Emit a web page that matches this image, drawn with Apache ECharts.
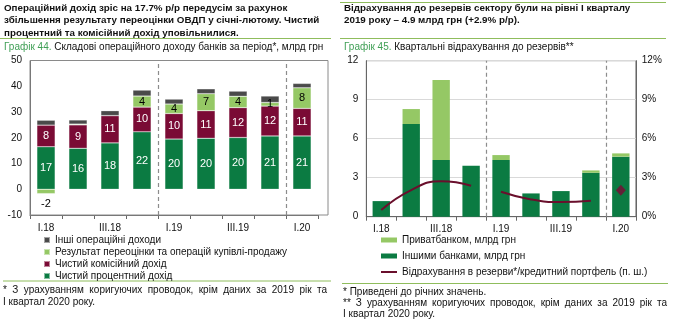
<!DOCTYPE html>
<html><head><meta charset="utf-8">
<script src="https://cdn.jsdelivr.net/npm/echarts@6/dist/echarts.min.js"></script>
<style>html,body{margin:0;padding:0;background:#fff}#c{width:679px;height:322px}</style>
</head><body><div id="c"></div>
<script>
// ---------- data ----------
const categories = ['I.18','II.18','III.18','IV.18','I.19','II.19','III.19','IV.19','I.20'];
// Chart 44: components of operating income, UAH bn
const netInterestIncome   = [16.5, 15.9, 18.0, 22.3, 19.5, 19.8, 20.1, 20.7, 20.7];
const netCommissionIncome = [8.4, 9.1, 10.6, 9.6, 9.9, 10.7, 11.6, 11.6, 10.7];
const revaluationResult   = [-1.7, 0.3, 0, 4.3, 3.7, 6.6, 4.4, 1.4, 8.0];
const otherOperatingIncome= [1.9, 1.6, 1.9, 2.3, 1.9, 1.9, 2.0, 2.5, 1.7];
// Chart 45: quarterly provisions
const privatBank  = [0, 1.15, 6.15, 0, 0.38, 0, 0, 0.18, 0.25];
const otherBanks  = [1.2, 7.13, 4.36, 3.92, 4.36, 1.79, 1.97, 3.38, 4.62];
const provisionRatio2018 = [0.51, 2.05, 2.72, 2.38, null, null, null, null, null];
const provisionRatio2019 = [null, null, null, null, 1.92, 1.33, 1.13, 1.23, null];
const provisionRatio2020 = [null, null, null, null, null, null, null, null, 2.03];
const leftTicks = [-10, 50, 10];   // min, max, interval
const rightTicks = [0, 12, 3];

// ---------- names ----------
const N_INT = 'Чистий процентний дохід';
const N_COM = 'Чистий комісійний дохід';
const N_REV = 'Результат переоцінки та операцій купівлі-продажу';
const N_OTH = 'Інші операційні доходи';
const N_PRV = 'Приватбанком, млрд грн';
const N_OTB = 'Іншими банками, млрд грн';
const N_RAT = 'Відрахування в резерви*/кредитний портфель (п. ш.)';

const FONT = '"Liberation Sans", Arial, sans-serif';
const FS = 10;
const C_GREEN = '#0b7b42', C_MAROON = '#7a0b35', C_LIGHT = '#95c865', C_GRAY = '#4a4a4a', C_LINE = '#6a0f2c';
const C_SEP = '#8fbd5c', C_SUB = '#3f9f55';

function labelled(values, color, minShow) {
  return values.map(v => ({
    value: v,
    label: { show: Math.abs(v) >= minShow, position: v < 0 ? 'bottom' : 'inside', color: v < 0 ? '#000' : color }
  }));
}
const barLabel = { fontFamily: FONT, fontSize: 11, formatter: p => String(Math.round(p.value)) };

// ---------- justified text helper ----------
const mctx = document.createElement('canvas').getContext('2d');
function justified(str, x0, x1, y, size) {
  mctx.font = size + 'px ' + FONT;
  const words = str.split(' ');
  const widths = words.map(w => mctx.measureText(w).width);
  const total = widths.reduce((a, b) => a + b, 0);
  const gap = (x1 - x0 - total) / (words.length - 1);
  let x = x0;
  return words.map((w, i) => {
    const el = { type: 'text', x: x, y: y, style: { text: w, font: size + 'px ' + FONT, fill: '#111', verticalAlign: 'middle' } };
    x += widths[i] + gap;
    return el;
  });
}
function txt(s, x, y, opts) {
  return { type: 'text', x: x, y: y, style: Object.assign({ text: s, fontFamily: FONT, fontSize: FS, fill: '#111', verticalAlign: 'middle' }, opts || {}) };
}
function hline(x1, x2, y, color) {
  return { type: 'line', shape: { x1: x1, y1: y, x2: x2, y2: y }, style: { stroke: color, lineWidth: 1 } };
}

const graphics = [
  // left header
  { type: 'text', x: 4, y: 1.5, style: { text: 'Операційний дохід зріс на 17.7% р/р передусім за рахунок\nзбільшення результату переоцінки ОВДП у січні-лютому. Чистий\nпроцентний та комісійний дохід уповільнилися.', fontFamily: FONT, fontSize: 9.8, fontWeight: 'bold', lineHeight: 12.6, fill: '#111' } },
  hline(0, 331, 38.5, C_SEP),
  { type: 'text', x: 4, y: 47.5, style: { text: '{g|Графік 44.} Складові операційного доходу банків за період*, млрд грн', fontFamily: FONT, fontSize: FS, fill: '#111', verticalAlign: 'middle', rich: { g: { fill: C_SUB, fontFamily: FONT, fontSize: FS } } } },
  // right header
  hline(340, 666, 2.5, C_SEP),
  { type: 'text', x: 344, y: 1.5, style: { text: 'Відрахування до резервів сектору були на рівні І кварталу\n2019 року – 4.9 млрд грн (+2.9% р/р).', fontFamily: FONT, fontSize: 9.8, fontWeight: 'bold', lineHeight: 12.6, fill: '#111' } },
  hline(340, 666, 38.5, C_SEP),
  { type: 'text', x: 344, y: 47.5, style: { text: '{g|Графік 45.} Квартальні відрахування до резервів**', fontFamily: FONT, fontSize: FS, fill: '#111', verticalAlign: 'middle', rich: { g: { fill: C_SUB, fontFamily: FONT, fontSize: FS } } } },
  // left frame
  { type: 'rect', shape: { x: 30, y: 60.5, width: 298, height: 154.5 }, style: { fill: 'none', stroke: '#8a8a8a', lineWidth: 1 }, z: 10 },
  // footers
  hline(3, 331, 281, C_SEP),
  hline(342, 668, 283.5, C_SEP),
  txt('І квартал 2020 року.', 3, 302),
  txt('* Приведені до річних значень.', 343, 292),
  txt('І квартал 2020 року.', 343, 314.5)
].concat(
  justified('* З урахуванням коригуючих проводок, крім даних за 2019 рік та', 3, 327, 290, FS),
  justified('** З урахуванням коригуючих проводок, крім даних за 2019 рік та', 343, 667, 303.5, FS)
);

const axisLabelStyle = { fontFamily: FONT, fontSize: FS, color: '#111' };
const dashLine = (xAxisIndex, yAxisIndex) => ({
  type: 'line', xAxisIndex: xAxisIndex, yAxisIndex: yAxisIndex, data: [], silent: true,
  markLine: { symbol: 'none', silent: true, label: { show: false }, lineStyle: { type: [4, 3], color: '#8c8c8c', width: 1.2 }, data: [{ xAxis: 3.5 }, { xAxis: 7.5 }] }
});
const yLine = { show: true, onZero: false, lineStyle: { color: '#666' } };

const option = {
  animation: false,
  backgroundColor: '#fff',
  textStyle: { fontFamily: FONT },
  grid: [
    { left: 30, width: 288, top: 60.5, height: 154.5 },
    { left: 366.3, right: 43.2, top: 60.7, height: 156, show: true, borderColor: '#8a8a8a', borderWidth: 1 }
  ],
  xAxis: [
    { type: 'category', gridIndex: 0, data: categories, axisLine: { onZero: false, lineStyle: { color: '#666' } }, axisTick: { show: true, length: 4, interval: 0, lineStyle: { color: '#666' } }, axisLabel: Object.assign({ interval: 1, margin: 8 }, axisLabelStyle) },
    { type: 'value', gridIndex: 0, min: -0.5, max: 8.5, show: false },
    { type: 'category', gridIndex: 1, data: categories, axisLine: { onZero: false, lineStyle: { color: '#666' } }, axisTick: { show: true, length: 4, interval: 0, lineStyle: { color: '#666' } }, axisLabel: Object.assign({ interval: 1, margin: 8 }, axisLabelStyle) },
    { type: 'value', gridIndex: 1, min: -0.5, max: 8.5, show: false }
  ],
  yAxis: [
    { type: 'value', gridIndex: 0, min: leftTicks[0], max: leftTicks[1], interval: leftTicks[2], axisLine: yLine, axisTick: { show: false }, splitLine: { show: false }, axisLabel: Object.assign({ margin: 8 }, axisLabelStyle) },
    { type: 'value', gridIndex: 1, min: rightTicks[0], max: rightTicks[1], interval: rightTicks[2], axisLine: yLine, axisTick: { show: false }, splitLine: { show: true, lineStyle: { color: '#d9d9d9' } }, axisLabel: Object.assign({ margin: 8 }, axisLabelStyle) },
    { type: 'value', gridIndex: 1, position: 'right', min: rightTicks[0], max: rightTicks[1], interval: rightTicks[2], axisLine: yLine, axisTick: { show: false }, splitLine: { show: false }, axisLabel: Object.assign({ margin: 6, formatter: '{value}%' }, axisLabelStyle) }
  ],
  legend: [
    { data: [N_OTH, N_REV, N_COM, N_INT], orient: 'vertical', left: 43, top: 234.5, padding: 0, icon: 'rect', itemWidth: 6, itemHeight: 6, itemGap: 1, selectedMode: false,
      textStyle: { fontFamily: FONT, fontSize: FS, color: '#111', lineHeight: 11 } },
    { data: [{ name: N_PRV, icon: 'rect' }, { name: N_OTB, icon: 'rect' }, { name: N_RAT, icon: 'path://M0,0 H16 V2 H0 Z' }], orient: 'vertical', left: 381, top: 234.5, padding: 0, itemWidth: 16, itemHeight: 5, itemGap: 5, selectedMode: false, symbolKeepAspect: true,
      textStyle: { fontFamily: FONT, fontSize: FS, color: '#111', lineHeight: 11 } }
  ],
  series: [
    { name: N_INT, type: 'bar', stack: 'inc', xAxisIndex: 0, yAxisIndex: 0, barWidth: '57%', itemStyle: { color: C_GREEN, borderColor: 'rgba(255,255,255,0.5)', borderWidth: 0.5 }, label: Object.assign({}, barLabel), data: labelled(netInterestIncome, '#fff', 1) },
    { name: N_COM, type: 'bar', stack: 'inc', xAxisIndex: 0, yAxisIndex: 0, itemStyle: { color: C_MAROON, borderColor: 'rgba(255,255,255,0.5)', borderWidth: 0.5 }, label: Object.assign({}, barLabel), data: labelled(netCommissionIncome, '#fff', 1) },
    { name: N_REV, type: 'bar', stack: 'inc', xAxisIndex: 0, yAxisIndex: 0, itemStyle: { color: C_LIGHT, borderColor: 'rgba(255,255,255,0.5)', borderWidth: 0.5 }, label: Object.assign({}, barLabel), data: labelled(revaluationResult, '#000', 1) },
    { name: N_OTH, type: 'bar', stack: 'inc', xAxisIndex: 0, yAxisIndex: 0, itemStyle: { color: C_GRAY, borderColor: 'rgba(255,255,255,0.5)', borderWidth: 0.5 }, data: otherOperatingIncome },
    dashLine(1, 0),
    { name: N_OTB, type: 'bar', stack: 'prov', xAxisIndex: 2, yAxisIndex: 1, barWidth: '58%', itemStyle: { color: C_GREEN }, data: otherBanks },
    { name: N_PRV, type: 'bar', stack: 'prov', xAxisIndex: 2, yAxisIndex: 1, itemStyle: { color: C_LIGHT }, data: privatBank },
    { name: N_RAT, type: 'line', xAxisIndex: 2, yAxisIndex: 2, smooth: true, symbol: 'none', lineStyle: { color: C_LINE, width: 2 }, itemStyle: { color: C_LINE }, data: provisionRatio2018 },
    { name: N_RAT, type: 'line', xAxisIndex: 2, yAxisIndex: 2, smooth: true, symbol: 'none', lineStyle: { color: C_LINE, width: 2 }, itemStyle: { color: C_LINE }, data: provisionRatio2019 },
    { name: 'I.20', type: 'scatter', xAxisIndex: 2, yAxisIndex: 2, symbol: 'diamond', symbolSize: [10, 11], itemStyle: { color: '#7a0b35' }, data: provisionRatio2020 },
    dashLine(3, 1)
  ],
  graphic: graphics
};

const chart = echarts.init(document.getElementById('c'), null, { renderer: 'canvas' });
chart.setOption(option);
</script>
</body></html>
